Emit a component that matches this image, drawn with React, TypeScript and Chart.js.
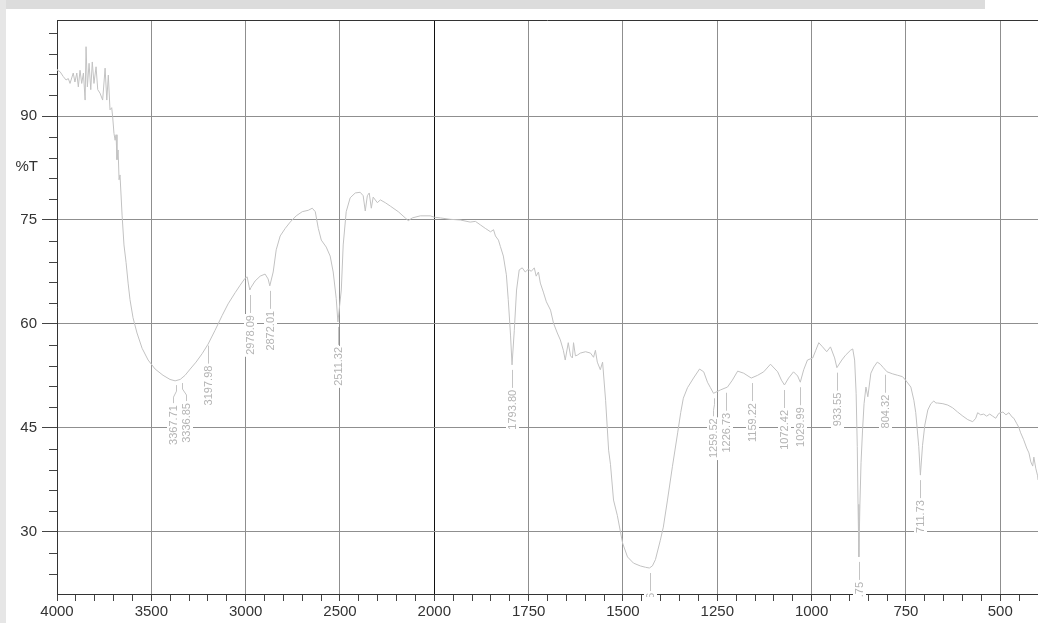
import React, { useEffect, useRef } from "react";
import { Chart, registerables } from "chart.js";

Chart.register(...registerables);

// Spectrum: wavenumber (cm-1) and %T
const wavenumbers = [
  4000, 3998, 3984, 3967, 3952, 3940, 3931, 3914, 3905, 3895, 3887, 3878, 3869, 3860, 3851, 3846, 3839, 3830, 3821, 3813,
  3804, 3793, 3784, 3772, 3758, 3745, 3736, 3728, 3719, 3710, 3705, 3698, 3692, 3687, 3682, 3676, 3671, 3666, 3655, 3645,
  3634, 3623, 3613, 3597, 3576, 3549, 3517, 3480, 3438, 3401, 3374, 3347, 3321, 3294, 3263, 3231, 3199, 3162, 3125, 3093,
  3056, 3029, 3003, 2992, 2978, 2971, 2950, 2923, 2897, 2881, 2872, 2854, 2838, 2817, 2790, 2764, 2732, 2700, 2668, 2647,
  2631, 2615, 2599, 2573, 2552, 2536, 2520, 2511, 2493, 2483, 2467, 2446, 2419, 2393, 2377, 2366, 2355, 2345, 2334, 2324,
  2302, 2286, 2260, 2233, 2191, 2154, 2138, 2117, 2074, 2021, 2000, 1984, 1958, 1931, 1905, 1891, 1878, 1865, 1851, 1843,
  1838, 1830, 1825, 1817, 1809, 1804, 1798, 1794, 1788, 1782, 1775, 1767, 1759, 1751, 1743, 1735, 1730, 1724, 1719, 1711,
  1703, 1692, 1684, 1674, 1666, 1658, 1653, 1645, 1639, 1634, 1631, 1626, 1621, 1613, 1599, 1586, 1578, 1573, 1568, 1560,
  1554, 1546, 1538, 1533, 1525, 1515, 1501, 1488, 1472, 1454, 1440, 1430, 1422, 1414, 1401, 1393, 1382, 1369, 1355, 1347,
  1340, 1329, 1313, 1297, 1286, 1276, 1268, 1260, 1241, 1223, 1210, 1196, 1180, 1160, 1143, 1127, 1109, 1090, 1080, 1072,
  1061, 1048, 1037, 1030, 1021, 1011, 997, 989, 981, 971, 960, 950, 939, 933, 920, 910, 897, 891, 886, 882,
  879, 877, 874.75, 872, 869, 865, 861, 856, 851, 843, 835, 826, 818, 810, 800, 785, 772, 759, 751, 737,
  729, 724, 716, 711.73, 706, 700, 692, 684, 676, 671, 666, 652, 639, 626, 613, 599, 586, 573, 565, 560,
  552, 544, 536, 528, 520, 512, 504, 493, 485, 477, 469, 464, 456, 451, 446, 438, 430, 424, 419, 414,
  411, 406, 401, 400,
];
const transmittance = [
  96.7, 96.6, 96.4, 95.7, 95.2, 95.4, 94.7, 96.2, 94.9, 96.2, 94.2, 96.6, 94.7, 96.2, 92.3, 100.0, 94.2, 97.6, 93.8, 97.8,
  94.7, 97.1, 93.8, 93.3, 92.3, 96.9, 92.3, 95.9, 90.9, 91.2, 89.9, 87.5, 86.5, 87.3, 83.7, 85.1, 80.8, 81.5, 75.7, 71.4,
  68.9, 65.9, 63.5, 60.9, 58.7, 56.5, 54.8, 53.5, 52.6, 52.0, 51.8, 52.0, 52.6, 53.5, 54.5, 55.7, 57.1, 59.1, 61.2, 62.9,
  64.5, 65.6, 66.6, 66.8, 64.9, 65.3, 66.2, 66.9, 67.2, 66.5, 65.5, 67.5, 70.7, 72.7, 73.8, 74.7, 75.6, 76.2, 76.4, 76.7,
  76.2, 73.8, 72.1, 71.1, 69.8, 67.5, 63.7, 60.3, 64.9, 71.4, 76.2, 78.2, 78.9, 79.0, 78.5, 76.3, 78.5, 78.9, 76.7, 78.3,
  77.5, 77.9, 77.5, 77.0, 76.2, 75.3, 74.9, 75.3, 75.6, 75.6, 75.4, 75.3, 75.1, 75.0, 74.7, 74.8, 74.3, 73.8, 73.3, 73.6,
  72.7, 72.1, 71.2, 69.8, 67.1, 63.5, 58.4, 54.1, 59.1, 64.9, 67.8, 68.1, 67.5, 67.9, 67.6, 68.1, 66.9, 67.5, 65.9, 64.6,
  63.2, 62.0, 60.1, 58.7, 57.7, 56.2, 54.8, 57.3, 55.4, 55.1, 57.3, 55.4, 55.5, 55.8, 56.0, 55.8, 55.2, 56.2, 54.5, 53.4,
  54.5, 49.0, 41.8, 39.7, 34.6, 32.4, 28.4, 26.4, 25.5, 25.1, 24.9, 24.8, 25.1, 26.0, 28.8, 30.7, 34.6, 39.4, 44.3, 47.2,
  49.3, 50.8, 52.2, 53.5, 53.1, 51.6, 50.8, 50.0, 50.5, 50.9, 51.9, 53.2, 52.9, 52.2, 52.6, 53.1, 54.2, 53.1, 51.9, 51.2,
  52.2, 53.1, 52.5, 51.6, 53.4, 54.8, 55.1, 56.2, 57.3, 56.7, 56.0, 56.7, 55.1, 53.7, 54.8, 55.5, 56.2, 56.4, 54.8, 50.0,
  42.3, 34.0, 26.4, 34.0, 40.0, 44.7, 48.5, 50.9, 49.5, 52.9, 53.8, 54.5, 54.2, 53.7, 53.1, 52.8, 52.6, 52.4, 51.9, 50.9,
  49.0, 47.2, 42.3, 38.2, 42.5, 45.4, 47.6, 48.5, 48.9, 48.6, 48.6, 48.5, 48.3, 47.9, 47.3, 46.7, 46.2, 45.9, 46.4, 47.2,
  46.9, 47.0, 46.7, 47.0, 46.7, 46.4, 47.1, 47.3, 46.9, 47.2, 46.6, 46.4, 45.6, 45.1, 44.3, 43.3, 42.1, 41.4, 40.1, 39.5,
  40.8, 39.2, 38.1, 37.5,
];

// Axis ticks
const xTickLabels = [4000, 3500, 3000, 2500, 2000, 1750, 1500, 1250, 1000, 750, 500];
const xMinorWavenumbers = [
  3900, 3800, 3700, 3600, 3400, 3300, 3200, 3100, 2900, 2800, 2700, 2600, 2400, 2300, 2200, 2100,
  1950, 1900, 1850, 1800, 1700, 1650, 1600, 1550, 1450, 1400, 1350, 1300, 1200, 1150, 1100, 1050,
  950, 900, 850, 800, 700, 650, 600, 550, 450, 400,
];
const yTickLabels = [30, 45, 60, 75, 90];
const yMinorTicks = [24, 27, 33, 36, 39, 42, 48, 51, 54, 57, 63, 66, 69, 72, 78, 81, 84, 87, 93, 96, 99, 102];

// Peak picks
const peakWavenumbers = [3367.71, 3336.85, 3197.98, 2978.09, 2872.01, 2511.32, 1793.8, 1429.56, 1259.52, 1226.73, 1159.22, 1072.42, 1029.99, 933.55, 874.75, 804.32, 711.73];
const peakTransmittance = [51.9, 52.2, 57.6, 64.9, 65.5, 60.3, 54.1, 24.8, 50.0, 50.8, 52.2, 51.2, 51.6, 53.7, 26.4, 53.4, 38.2];
const peakLabels = peakWavenumbers.map((w) => w.toFixed(2));

// Split axis: 4000-2000 at 500 per division, 2000-400 at 250 per division
function toAxis(wn: number): number {
  return wn >= 2000 ? (4000 - wn) / 500 : 4 + (2000 - wn) / 250;
}

const FONT = "'Liberation Sans', Arial, sans-serif";

const overlayPlugin = {
  id: "overlay",
  afterDraw(chart: any) {
    const { ctx, chartArea } = chart;
    const xs = chart.scales.x;
    const ys = chart.scales.y;
    ctx.save();
    // top border
    ctx.strokeStyle = "#333";
    ctx.lineWidth = 1;
    ctx.beginPath();
    ctx.moveTo(chartArea.left, Math.round(chartArea.top) + 0.5);
    ctx.lineTo(chartArea.right, Math.round(chartArea.top) + 0.5);
    ctx.stroke();
    // minor y ticks
    ctx.strokeStyle = "#444";
    yMinorTicks.forEach((v) => {
      const y = Math.round(ys.getPixelForValue(v)) + 0.5;
      ctx.beginPath();
      ctx.moveTo(chartArea.left - 8, y);
      ctx.lineTo(chartArea.left, y);
      ctx.stroke();
    });
    // %T label
    ctx.fillStyle = "#333";
    ctx.font = "15px " + FONT;
    ctx.textAlign = "right";
    ctx.textBaseline = "middle";
    ctx.fillText("%T", 38, ys.getPixelForValue(82.6));

    // peak labels
    ctx.beginPath();
    ctx.rect(chartArea.left, chartArea.top, chartArea.right - chartArea.left, chartArea.bottom + 3 - chartArea.top);
    ctx.clip();
    const px = peakWavenumbers.map((w) => xs.getPixelForValue(toAxis(w)));
    const lx = px.slice();
    const minGap = 13;
    for (let it = 0; it < 5; it++) {
      for (let i = 1; i < lx.length; i++) {
        const d = lx[i] - lx[i - 1];
        if (d < minGap) {
          const s = (minGap - d) / 2;
          lx[i - 1] -= s;
          lx[i] += s;
        }
      }
    }
    ctx.font = "11px " + FONT;
    ctx.lineWidth = 1;
    peakWavenumbers.forEach((w, i) => {
      const py = ys.getPixelForValue(peakTransmittance[i]);
      const x0 = Math.round(px[i]) + 0.5;
      const x1 = Math.round(lx[i]) + 0.5;
      const yTop = py + 5;
      const yBot = py + 23;
      ctx.strokeStyle = "#c4c4c4";
      ctx.beginPath();
      ctx.moveTo(x0, yTop);
      if (x0 !== x1) {
        ctx.lineTo(x0, yTop + 6);
        ctx.lineTo(x1, yTop + 12);
      }
      ctx.lineTo(x1, yBot);
      ctx.stroke();
      const label = peakLabels[i];
      const tw = ctx.measureText(label).width;
      ctx.save();
      ctx.translate(x1, py + 25);
      ctx.rotate(-Math.PI / 2);
      ctx.fillStyle = "#ffffff";
      ctx.fillRect(-tw - 2, -6.5, tw + 3, 13);
      ctx.fillStyle = "#b4b4b4";
      ctx.textAlign = "right";
      ctx.textBaseline = "middle";
      ctx.fillText(label, 0, 0.5);
      ctx.restore();
    });
    ctx.restore();
  },
};

export default function App() {
  const ref = useRef<HTMLCanvasElement | null>(null);

  useEffect(() => {
    if (!ref.current) return;
    Chart.defaults.font.family = FONT;
    const points = wavenumbers.map((w, i) => ({ x: toAxis(w), y: transmittance[i] }));
    const majorX = xTickLabels.map((w) => toAxis(w));
    const minorX = xMinorWavenumbers.map((w) => toAxis(w));
    const isMajorX = (v: number) => majorX.some((m) => Math.abs(m - v) < 1e-6);

    const chart = new Chart(ref.current, {
      type: "line",
      data: {
        datasets: [
          {
            data: points,
            borderColor: "#c2c2c2",
            borderWidth: 1,
            pointRadius: 0,
            tension: 0,
            fill: false,
          },
        ],
      },
      options: {
        responsive: false,
        animation: false,
        layout: { padding: { top: 20, left: 0, right: 0, bottom: 0 } },
        plugins: { legend: { display: false }, tooltip: { enabled: false } },
        scales: {
          x: {
            type: "linear",
            min: 0,
            max: toAxis(400),
            afterBuildTicks: (s: any) => {
              const all = majorX.concat(minorX).sort((a, b) => a - b);
              s.ticks = all.map((v) => ({ value: v }));
            },
            afterFit: (s: any) => {
              s.height = 29;
              s.paddingLeft = 0;
              s.paddingRight = 0;
            },
            ticks: {
              autoSkip: false,
              maxRotation: 0,
              minRotation: 0,
              padding: 2,
              color: "#333",
              font: { size: 15, family: FONT },
              callback: (v: any) => {
                const idx = majorX.findIndex((m) => Math.abs(m - v) < 1e-6);
                return idx >= 0 ? String(xTickLabels[idx]) : "";
              },
            },
            grid: {
              tickLength: 7,
              lineWidth: 1,
              color: (c: any) => {
                const v = c.tick ? c.tick.value : 0;
                if (Math.abs(v - 4) < 1e-6) return "#111";
                return isMajorX(v) ? "#8f8f8f" : "rgba(0,0,0,0)";
              },
              tickColor: "#444",
            },
            border: { display: true, color: "#333", width: 1 },
          },
          y: {
            type: "linear",
            min: 21.05,
            max: 103.85,
            afterBuildTicks: (s: any) => {
              s.ticks = yTickLabels.map((v) => ({ value: v }));
            },
            afterFit: (s: any) => {
              s.width = 57;
              s.paddingTop = 0;
              s.paddingBottom = 0;
            },
            ticks: {
              padding: 5,
              color: "#333",
              font: { size: 15, family: FONT },
              callback: (v: any) => String(v),
            },
            grid: {
              tickLength: 15,
              lineWidth: 1,
              color: "#8f8f8f",
              tickColor: "#444",
            },
            border: { display: true, color: "#333", width: 1 },
          },
        },
      },
      plugins: [overlayPlugin],
    } as any);
    return () => chart.destroy();
  }, []);

  return (
    <div style={{ position: "fixed", left: 0, top: 0, width: 1038, height: 623, background: "#ffffff", overflow: "hidden" }}>
      <div style={{ position: "absolute", left: 0, top: 0, width: 985, height: 9, background: "#dcdcdc" }} />
      <div style={{ position: "absolute", left: 0, top: 0, width: 6, height: 623, background: "#e6e6e6" }} />
      <canvas ref={ref} width={1038} height={623} style={{ position: "absolute", left: 0, top: 0, display: "block" }} />
    </div>
  );
}
